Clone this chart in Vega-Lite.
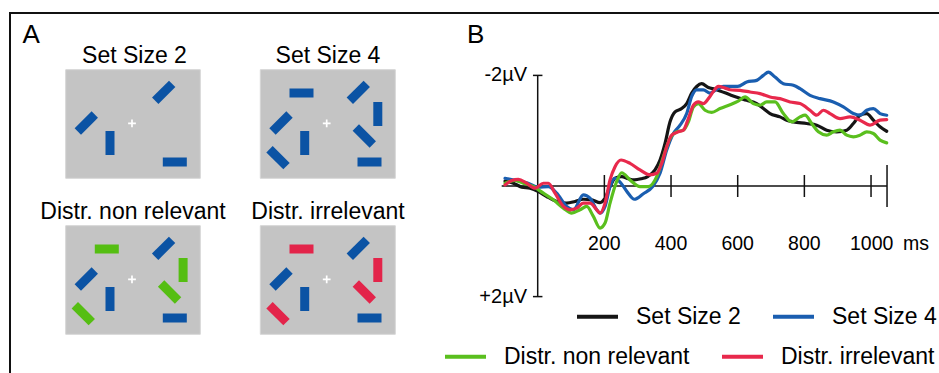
{
  "$schema": "https://vega.github.io/schema/vega-lite/v6.json",
  "width": 931,
  "height": 362,
  "autosize": {"type": "none"},
  "padding": {"left": 10, "top": 13, "right": -2, "bottom": -2},
  "background": "white",
  "config": {
    "view": {"stroke": "#111111", "strokeWidth": 2},
    "font": "Liberation Sans",
    "text": {"font": "Liberation Sans", "color": "#000000"}
  },
  "datasets": {
    "displays": [
      {"display": "Set Size 2", "x": 65.7, "x2": 200.3, "y": 69.7, "y2": 178.3},
      {"display": "Set Size 4", "x": 260.3, "x2": 395.3, "y": 69.7, "y2": 178.3},
      {"display": "Distr. non relevant", "x": 65.7, "x2": 200.3, "y": 225.7, "y2": 334.3},
      {"display": "Distr. irrelevant", "x": 260.3, "x2": 395.3, "y": 225.7, "y2": 334.3}
    ],
    "titles": [
      {"label": "Set Size 2", "x": 134.5, "y": 63.3},
      {"label": "Set Size 4", "x": 328, "y": 63.3},
      {"label": "Distr. non relevant", "x": 133, "y": 219},
      {"label": "Distr. irrelevant", "x": 328, "y": 219}
    ],
    "panelA": [{"label": "A", "x": 22.5, "y": 43.3}],
    "bars": [
      {"display": "Set Size 2", "stim": "target", "x": 163.7, "y": 92.3, "orientation": 315},
      {"display": "Set Size 2", "stim": "target", "x": 86.3, "y": 123, "orientation": 315},
      {"display": "Set Size 2", "stim": "target", "x": 110, "y": 143, "orientation": 90},
      {"display": "Set Size 2", "stim": "target", "x": 174.8, "y": 162, "orientation": 0},
      {"display": "Set Size 4", "stim": "target", "x": 301.5, "y": 93, "orientation": 0},
      {"display": "Set Size 4", "stim": "target", "x": 358.3, "y": 92.3, "orientation": 315},
      {"display": "Set Size 4", "stim": "target", "x": 377.8, "y": 114, "orientation": 90},
      {"display": "Set Size 4", "stim": "target", "x": 281, "y": 123, "orientation": 315},
      {"display": "Set Size 4", "stim": "target", "x": 364.3, "y": 136, "orientation": 45},
      {"display": "Set Size 4", "stim": "target", "x": 304.7, "y": 143, "orientation": 90},
      {"display": "Set Size 4", "stim": "target", "x": 278, "y": 157.7, "orientation": 45},
      {"display": "Set Size 4", "stim": "target", "x": 369.5, "y": 162, "orientation": 0},
      {"display": "Distr. non relevant", "stim": "non relevant", "x": 106.8, "y": 249, "orientation": 0},
      {"display": "Distr. non relevant", "stim": "target", "x": 163.6, "y": 248.3, "orientation": 315},
      {"display": "Distr. non relevant", "stim": "non relevant", "x": 183.1, "y": 270, "orientation": 90},
      {"display": "Distr. non relevant", "stim": "target", "x": 86.3, "y": 279, "orientation": 315},
      {"display": "Distr. non relevant", "stim": "non relevant", "x": 169.6, "y": 292, "orientation": 45},
      {"display": "Distr. non relevant", "stim": "target", "x": 110, "y": 299, "orientation": 90},
      {"display": "Distr. non relevant", "stim": "non relevant", "x": 83.3, "y": 313.7, "orientation": 45},
      {"display": "Distr. non relevant", "stim": "target", "x": 174.8, "y": 318, "orientation": 0},
      {"display": "Distr. irrelevant", "stim": "irrelevant", "x": 301.5, "y": 249, "orientation": 0},
      {"display": "Distr. irrelevant", "stim": "target", "x": 358.3, "y": 248.3, "orientation": 315},
      {"display": "Distr. irrelevant", "stim": "irrelevant", "x": 377.8, "y": 270, "orientation": 90},
      {"display": "Distr. irrelevant", "stim": "target", "x": 281, "y": 279, "orientation": 315},
      {"display": "Distr. irrelevant", "stim": "irrelevant", "x": 364.3, "y": 292, "orientation": 45},
      {"display": "Distr. irrelevant", "stim": "target", "x": 304.7, "y": 299, "orientation": 90},
      {"display": "Distr. irrelevant", "stim": "irrelevant", "x": 278, "y": 313.7, "orientation": 45},
      {"display": "Distr. irrelevant", "stim": "target", "x": 369.5, "y": 318, "orientation": 0}
    ],
    "fixation": [
      {"display": "Set Size 2", "x": 132, "y": 123.3},
      {"display": "Set Size 4", "x": 326.7, "y": 123.3},
      {"display": "Distr. non relevant", "x": 132, "y": 279.3},
      {"display": "Distr. irrelevant", "x": 326.7, "y": 279.3}
    ],
    "erpSetSize": [
      {"condition": "Set Size 2", "t": -98, "v": -0.09}, {"condition": "Set Size 2", "t": -73, "v": -0.05},
      {"condition": "Set Size 2", "t": -48, "v": 0.02}, {"condition": "Set Size 2", "t": -23, "v": 0.04},
      {"condition": "Set Size 2", "t": 2, "v": 0.10}, {"condition": "Set Size 2", "t": 27, "v": 0.19},
      {"condition": "Set Size 2", "t": 57, "v": 0.28}, {"condition": "Set Size 2", "t": 87, "v": 0.31},
      {"condition": "Set Size 2", "t": 112, "v": 0.28}, {"condition": "Set Size 2", "t": 137, "v": 0.24},
      {"condition": "Set Size 2", "t": 162, "v": 0.25}, {"condition": "Set Size 2", "t": 187, "v": 0.30},
      {"condition": "Set Size 2", "t": 202, "v": 0.22}, {"condition": "Set Size 2", "t": 217, "v": 0.01},
      {"condition": "Set Size 2", "t": 232, "v": -0.14}, {"condition": "Set Size 2", "t": 252, "v": -0.17},
      {"condition": "Set Size 2", "t": 272, "v": -0.13}, {"condition": "Set Size 2", "t": 290, "v": -0.11},
      {"condition": "Set Size 2", "t": 310, "v": -0.13}, {"condition": "Set Size 2", "t": 330, "v": -0.17},
      {"condition": "Set Size 2", "t": 352, "v": -0.29}, {"condition": "Set Size 2", "t": 367, "v": -0.47},
      {"condition": "Set Size 2", "t": 382, "v": -0.77}, {"condition": "Set Size 2", "t": 397, "v": -1.16},
      {"condition": "Set Size 2", "t": 412, "v": -1.34}, {"condition": "Set Size 2", "t": 432, "v": -1.40},
      {"condition": "Set Size 2", "t": 447, "v": -1.49}, {"condition": "Set Size 2", "t": 462, "v": -1.68},
      {"condition": "Set Size 2", "t": 477, "v": -1.80}, {"condition": "Set Size 2", "t": 492, "v": -1.85},
      {"condition": "Set Size 2", "t": 512, "v": -1.78}, {"condition": "Set Size 2", "t": 532, "v": -1.75},
      {"condition": "Set Size 2", "t": 547, "v": -1.72}, {"condition": "Set Size 2", "t": 577, "v": -1.65},
      {"condition": "Set Size 2", "t": 600, "v": -1.60}, {"condition": "Set Size 2", "t": 627, "v": -1.55},
      {"condition": "Set Size 2", "t": 657, "v": -1.49}, {"condition": "Set Size 2", "t": 677, "v": -1.40},
      {"condition": "Set Size 2", "t": 697, "v": -1.31}, {"condition": "Set Size 2", "t": 727, "v": -1.25},
      {"condition": "Set Size 2", "t": 747, "v": -1.19}, {"condition": "Set Size 2", "t": 767, "v": -1.16},
      {"condition": "Set Size 2", "t": 807, "v": -1.13}, {"condition": "Set Size 2", "t": 837, "v": -1.10},
      {"condition": "Set Size 2", "t": 867, "v": -1.01}, {"condition": "Set Size 2", "t": 897, "v": -0.98},
      {"condition": "Set Size 2", "t": 927, "v": -1.01}, {"condition": "Set Size 2", "t": 947, "v": -1.13},
      {"condition": "Set Size 2", "t": 967, "v": -1.28}, {"condition": "Set Size 2", "t": 987, "v": -1.31},
      {"condition": "Set Size 2", "t": 1007, "v": -1.19}, {"condition": "Set Size 2", "t": 1027, "v": -1.07},
      {"condition": "Set Size 2", "t": 1047, "v": -0.99},
      {"condition": "Set Size 4", "t": -98, "v": -0.14}, {"condition": "Set Size 4", "t": -63, "v": -0.10},
      {"condition": "Set Size 4", "t": -33, "v": -0.06}, {"condition": "Set Size 4", "t": 2, "v": 0.02},
      {"condition": "Set Size 4", "t": 32, "v": 0.01}, {"condition": "Set Size 4", "t": 57, "v": 0.13},
      {"condition": "Set Size 4", "t": 87, "v": 0.37}, {"condition": "Set Size 4", "t": 107, "v": 0.43},
      {"condition": "Set Size 4", "t": 137, "v": 0.16}, {"condition": "Set Size 4", "t": 157, "v": 0.22},
      {"condition": "Set Size 4", "t": 177, "v": 0.43}, {"condition": "Set Size 4", "t": 187, "v": 0.49},
      {"condition": "Set Size 4", "t": 202, "v": 0.37}, {"condition": "Set Size 4", "t": 217, "v": 0.01},
      {"condition": "Set Size 4", "t": 232, "v": -0.14}, {"condition": "Set Size 4", "t": 250, "v": -0.05},
      {"condition": "Set Size 4", "t": 270, "v": 0.12}, {"condition": "Set Size 4", "t": 290, "v": 0.24},
      {"condition": "Set Size 4", "t": 317, "v": 0.14}, {"condition": "Set Size 4", "t": 345, "v": 0.01},
      {"condition": "Set Size 4", "t": 367, "v": -0.23}, {"condition": "Set Size 4", "t": 387, "v": -0.65},
      {"condition": "Set Size 4", "t": 407, "v": -0.95}, {"condition": "Set Size 4", "t": 427, "v": -1.10},
      {"condition": "Set Size 4", "t": 447, "v": -1.31}, {"condition": "Set Size 4", "t": 462, "v": -1.62},
      {"condition": "Set Size 4", "t": 477, "v": -1.74}, {"condition": "Set Size 4", "t": 497, "v": -1.74},
      {"condition": "Set Size 4", "t": 517, "v": -1.68}, {"condition": "Set Size 4", "t": 537, "v": -1.75},
      {"condition": "Set Size 4", "t": 557, "v": -1.80}, {"condition": "Set Size 4", "t": 577, "v": -1.80},
      {"condition": "Set Size 4", "t": 600, "v": -1.80}, {"condition": "Set Size 4", "t": 627, "v": -1.88},
      {"condition": "Set Size 4", "t": 657, "v": -1.91}, {"condition": "Set Size 4", "t": 677, "v": -2.00},
      {"condition": "Set Size 4", "t": 692, "v": -2.06}, {"condition": "Set Size 4", "t": 712, "v": -1.97},
      {"condition": "Set Size 4", "t": 737, "v": -1.85}, {"condition": "Set Size 4", "t": 767, "v": -1.82},
      {"condition": "Set Size 4", "t": 787, "v": -1.76}, {"condition": "Set Size 4", "t": 817, "v": -1.64},
      {"condition": "Set Size 4", "t": 847, "v": -1.58}, {"condition": "Set Size 4", "t": 887, "v": -1.52},
      {"condition": "Set Size 4", "t": 917, "v": -1.43}, {"condition": "Set Size 4", "t": 947, "v": -1.31},
      {"condition": "Set Size 4", "t": 967, "v": -1.28}, {"condition": "Set Size 4", "t": 987, "v": -1.37},
      {"condition": "Set Size 4", "t": 1007, "v": -1.40}, {"condition": "Set Size 4", "t": 1027, "v": -1.31},
      {"condition": "Set Size 4", "t": 1047, "v": -1.28}
    ],
    "erpDistr": [
      {"condition": "Distr. non relevant", "t": -98, "v": -0.05}, {"condition": "Distr. non relevant", "t": -68, "v": -0.10},
      {"condition": "Distr. non relevant", "t": -43, "v": -0.05}, {"condition": "Distr. non relevant", "t": -13, "v": 0.01},
      {"condition": "Distr. non relevant", "t": 17, "v": 0.13}, {"condition": "Distr. non relevant", "t": 47, "v": 0.25},
      {"condition": "Distr. non relevant", "t": 77, "v": 0.40}, {"condition": "Distr. non relevant", "t": 102, "v": 0.49},
      {"condition": "Distr. non relevant", "t": 127, "v": 0.43}, {"condition": "Distr. non relevant", "t": 147, "v": 0.37},
      {"condition": "Distr. non relevant", "t": 167, "v": 0.55}, {"condition": "Distr. non relevant", "t": 187, "v": 0.76},
      {"condition": "Distr. non relevant", "t": 202, "v": 0.67}, {"condition": "Distr. non relevant", "t": 217, "v": 0.31},
      {"condition": "Distr. non relevant", "t": 235, "v": -0.05}, {"condition": "Distr. non relevant", "t": 252, "v": -0.24},
      {"condition": "Distr. non relevant", "t": 277, "v": -0.11}, {"condition": "Distr. non relevant", "t": 307, "v": 0.01},
      {"condition": "Distr. non relevant", "t": 332, "v": 0.01}, {"condition": "Distr. non relevant", "t": 357, "v": -0.17},
      {"condition": "Distr. non relevant", "t": 377, "v": -0.53}, {"condition": "Distr. non relevant", "t": 397, "v": -0.86},
      {"condition": "Distr. non relevant", "t": 417, "v": -0.98}, {"condition": "Distr. non relevant", "t": 437, "v": -1.01},
      {"condition": "Distr. non relevant", "t": 452, "v": -1.16}, {"condition": "Distr. non relevant", "t": 467, "v": -1.43},
      {"condition": "Distr. non relevant", "t": 482, "v": -1.49}, {"condition": "Distr. non relevant", "t": 502, "v": -1.37},
      {"condition": "Distr. non relevant", "t": 522, "v": -1.33}, {"condition": "Distr. non relevant", "t": 547, "v": -1.40},
      {"condition": "Distr. non relevant", "t": 577, "v": -1.47}, {"condition": "Distr. non relevant", "t": 600, "v": -1.53},
      {"condition": "Distr. non relevant", "t": 622, "v": -1.61}, {"condition": "Distr. non relevant", "t": 647, "v": -1.49},
      {"condition": "Distr. non relevant", "t": 667, "v": -1.46}, {"condition": "Distr. non relevant", "t": 687, "v": -1.52},
      {"condition": "Distr. non relevant", "t": 712, "v": -1.52}, {"condition": "Distr. non relevant", "t": 737, "v": -1.31},
      {"condition": "Distr. non relevant", "t": 762, "v": -1.16}, {"condition": "Distr. non relevant", "t": 787, "v": -1.25},
      {"condition": "Distr. non relevant", "t": 802, "v": -1.28}, {"condition": "Distr. non relevant", "t": 822, "v": -1.13},
      {"condition": "Distr. non relevant", "t": 842, "v": -0.98}, {"condition": "Distr. non relevant", "t": 867, "v": -0.92},
      {"condition": "Distr. non relevant", "t": 887, "v": -0.98}, {"condition": "Distr. non relevant", "t": 907, "v": -1.01},
      {"condition": "Distr. non relevant", "t": 927, "v": -0.92}, {"condition": "Distr. non relevant", "t": 947, "v": -0.89},
      {"condition": "Distr. non relevant", "t": 967, "v": -0.92}, {"condition": "Distr. non relevant", "t": 987, "v": -0.98},
      {"condition": "Distr. non relevant", "t": 1007, "v": -0.95}, {"condition": "Distr. non relevant", "t": 1027, "v": -0.83},
      {"condition": "Distr. non relevant", "t": 1047, "v": -0.78},
      {"condition": "Distr. irrelevant", "t": -98, "v": -0.02}, {"condition": "Distr. irrelevant", "t": -78, "v": -0.10},
      {"condition": "Distr. irrelevant", "t": -58, "v": -0.12}, {"condition": "Distr. irrelevant", "t": -33, "v": -0.05},
      {"condition": "Distr. irrelevant", "t": -8, "v": 0.04}, {"condition": "Distr. irrelevant", "t": 17, "v": -0.05},
      {"condition": "Distr. irrelevant", "t": 32, "v": -0.05}, {"condition": "Distr. irrelevant", "t": 52, "v": 0.13},
      {"condition": "Distr. irrelevant", "t": 77, "v": 0.37}, {"condition": "Distr. irrelevant", "t": 97, "v": 0.43},
      {"condition": "Distr. irrelevant", "t": 117, "v": 0.40}, {"condition": "Distr. irrelevant", "t": 137, "v": 0.31},
      {"condition": "Distr. irrelevant", "t": 157, "v": 0.31}, {"condition": "Distr. irrelevant", "t": 177, "v": 0.43},
      {"condition": "Distr. irrelevant", "t": 187, "v": 0.49}, {"condition": "Distr. irrelevant", "t": 202, "v": 0.31},
      {"condition": "Distr. irrelevant", "t": 217, "v": -0.11}, {"condition": "Distr. irrelevant", "t": 232, "v": -0.35},
      {"condition": "Distr. irrelevant", "t": 250, "v": -0.47}, {"condition": "Distr. irrelevant", "t": 277, "v": -0.41},
      {"condition": "Distr. irrelevant", "t": 307, "v": -0.29}, {"condition": "Distr. irrelevant", "t": 337, "v": -0.20},
      {"condition": "Distr. irrelevant", "t": 357, "v": -0.23}, {"condition": "Distr. irrelevant", "t": 372, "v": -0.41},
      {"condition": "Distr. irrelevant", "t": 387, "v": -0.71}, {"condition": "Distr. irrelevant", "t": 402, "v": -0.92},
      {"condition": "Distr. irrelevant", "t": 422, "v": -0.98}, {"condition": "Distr. irrelevant", "t": 437, "v": -1.01},
      {"condition": "Distr. irrelevant", "t": 452, "v": -1.22}, {"condition": "Distr. irrelevant", "t": 467, "v": -1.46},
      {"condition": "Distr. irrelevant", "t": 482, "v": -1.52}, {"condition": "Distr. irrelevant", "t": 497, "v": -1.49},
      {"condition": "Distr. irrelevant", "t": 512, "v": -1.58}, {"condition": "Distr. irrelevant", "t": 527, "v": -1.71},
      {"condition": "Distr. irrelevant", "t": 542, "v": -1.80}, {"condition": "Distr. irrelevant", "t": 562, "v": -1.77},
      {"condition": "Distr. irrelevant", "t": 577, "v": -1.74}, {"condition": "Distr. irrelevant", "t": 607, "v": -1.73},
      {"condition": "Distr. irrelevant", "t": 637, "v": -1.70}, {"condition": "Distr. irrelevant", "t": 667, "v": -1.67},
      {"condition": "Distr. irrelevant", "t": 697, "v": -1.61}, {"condition": "Distr. irrelevant", "t": 727, "v": -1.58},
      {"condition": "Distr. irrelevant", "t": 757, "v": -1.52}, {"condition": "Distr. irrelevant", "t": 787, "v": -1.49},
      {"condition": "Distr. irrelevant", "t": 817, "v": -1.37}, {"condition": "Distr. irrelevant", "t": 837, "v": -1.28},
      {"condition": "Distr. irrelevant", "t": 857, "v": -1.37}, {"condition": "Distr. irrelevant", "t": 877, "v": -1.31},
      {"condition": "Distr. irrelevant", "t": 907, "v": -1.22}, {"condition": "Distr. irrelevant", "t": 937, "v": -1.25},
      {"condition": "Distr. irrelevant", "t": 967, "v": -1.19}, {"condition": "Distr. irrelevant", "t": 997, "v": -1.10},
      {"condition": "Distr. irrelevant", "t": 1027, "v": -1.19}, {"condition": "Distr. irrelevant", "t": 1047, "v": -1.20}
    ],
    "xTicks": [{"t": 200}, {"t": 400}, {"t": 600}, {"t": 800}, {"t": 1000}],
    "xTickLabels": [
      {"t": 200, "label": "200"}, {"t": 400, "label": "400"}, {"t": 600, "label": "600"},
      {"t": 800, "label": "800"}, {"t": 1002, "label": "1000"}, {"t": 1135, "label": "ms"}
    ],
    "yTicks": [{"v": -2, "label": "-2µV"}, {"v": 2, "label": "+2µV"}]
  },
  "resolve": {"scale": {"x": "independent", "y": "independent"}},
  "layer": [
    {
      "encoding": {
        "x": {"field": "x", "type": "quantitative", "scale": {"domain": [10, 941], "nice": false, "zero": false}, "axis": null},
        "y": {"field": "y", "type": "quantitative", "scale": {"domain": [13, 375], "nice": false, "zero": false, "reverse": true}, "axis": null}
      },
      "layer": [
        {
          "data": {"name": "displays"},
          "mark": {"type": "rect", "fill": "#c4c4c4", "stroke": "#d6d6d6", "strokeWidth": 1},
          "encoding": {"x2": {"field": "x2"}, "y2": {"field": "y2"}}
        },
        {
          "data": {"name": "titles"},
          "mark": {"type": "text", "fontSize": 23, "align": "center", "baseline": "alphabetic"},
          "encoding": {"text": {"field": "label"}}
        },
        {
          "data": {"name": "bars"},
          "mark": {"type": "point", "shape": "M-1,-0.375L1,-0.375L1,0.375L-1,0.375Z", "filled": true, "size": 576, "opacity": 1, "strokeWidth": 0},
          "encoding": {
            "angle": {"field": "orientation", "type": "quantitative", "scale": {"domain": [0, 360], "range": [0, 360]}},
            "fill": {"field": "stim", "type": "nominal", "scale": {"domain": ["target", "non relevant", "irrelevant"], "range": ["#0b53a4", "#55be12", "#e3244a"]}, "legend": null}
          }
        },
        {
          "data": {"name": "fixation"},
          "mark": {"type": "point", "shape": "M-1,0L1,0M0,-1L0,1", "filled": false, "stroke": "#ffffff", "strokeWidth": 1.7, "size": 60, "opacity": 1}
        },
        {
          "data": {"name": "panelA"},
          "mark": {"type": "text", "fontSize": 26, "align": "left", "baseline": "alphabetic"},
          "encoding": {"text": {"field": "label"}}
        }
      ]
    },
    {
      "resolve": {"scale": {"color": "independent"}, "legend": {"color": "independent"}},
      "layer": [
        {
          "data": {"values": [{}]},
          "mark": {"type": "rule", "color": "#111111", "strokeWidth": 1.5},
          "encoding": {
            "x": {"datum": -108, "type": "quantitative", "scale": {"domain": [-1583.1, 1209.9], "nice": false, "zero": false}, "axis": null},
            "x2": {"datum": 1048},
            "y": {"datum": 0, "type": "quantitative", "scale": {"domain": [-3.1284, 3.4177], "nice": false, "zero": false, "reverse": true}, "axis": null}
          }
        },
        {
          "data": {"values": [{}]},
          "mark": {"type": "rule", "color": "#111111", "strokeWidth": 1.5},
          "encoding": {
            "x": {"datum": 0, "type": "quantitative", "scale": {"domain": [-1583.1, 1209.9], "nice": false, "zero": false}, "axis": null},
            "y": {"datum": -2, "type": "quantitative", "scale": {"domain": [-3.1284, 3.4177], "nice": false, "zero": false, "reverse": true}, "axis": null},
            "y2": {"datum": 2}
          }
        },
        {
          "data": {"name": "xTicks"},
          "mark": {"type": "point", "shape": "M0,-1L0,1", "filled": false, "stroke": "#111111", "strokeWidth": 1.5, "size": 484, "opacity": 1},
          "encoding": {
            "x": {"field": "t", "type": "quantitative", "scale": {"domain": [-1583.1, 1209.9], "nice": false, "zero": false}, "axis": null},
            "y": {"datum": 0, "type": "quantitative", "scale": {"domain": [-3.1284, 3.4177], "nice": false, "zero": false, "reverse": true}, "axis": null}
          }
        },
        {
          "data": {"values": [{"t": 1048}]},
          "mark": {"type": "point", "shape": "M0,-1L0,1", "filled": false, "stroke": "#111111", "strokeWidth": 1.5, "size": 1764, "opacity": 1},
          "encoding": {
            "x": {"field": "t", "type": "quantitative", "scale": {"domain": [-1583.1, 1209.9], "nice": false, "zero": false}, "axis": null},
            "y": {"datum": 0, "type": "quantitative", "scale": {"domain": [-3.1284, 3.4177], "nice": false, "zero": false, "reverse": true}, "axis": null}
          }
        },
        {
          "data": {"name": "yTicks"},
          "mark": {"type": "point", "shape": "M-1,0L1,0", "filled": false, "stroke": "#111111", "strokeWidth": 1.5, "size": 90, "opacity": 1},
          "encoding": {
            "x": {"datum": 0, "type": "quantitative", "scale": {"domain": [-1583.1, 1209.9], "nice": false, "zero": false}, "axis": null},
            "y": {"field": "v", "type": "quantitative", "scale": {"domain": [-3.1284, 3.4177], "nice": false, "zero": false, "reverse": true}, "axis": null}
          }
        },
        {
          "data": {"name": "xTickLabels"},
          "mark": {"type": "text", "fontSize": 19.5, "align": "center", "baseline": "alphabetic"},
          "encoding": {
            "x": {"field": "t", "type": "quantitative", "scale": {"domain": [-1583.1, 1209.9], "nice": false, "zero": false}, "axis": null},
            "y": {"datum": 1.157, "type": "quantitative", "scale": {"domain": [-3.1284, 3.4177], "nice": false, "zero": false, "reverse": true}, "axis": null},
            "text": {"field": "label"}
          }
        },
        {
          "data": {"name": "yTicks"},
          "mark": {"type": "text", "fontSize": 20, "align": "right", "baseline": "middle"},
          "encoding": {
            "x": {"datum": -32, "type": "quantitative", "scale": {"domain": [-1583.1, 1209.9], "nice": false, "zero": false}, "axis": null},
            "y": {"field": "v", "type": "quantitative", "scale": {"domain": [-3.1284, 3.4177], "nice": false, "zero": false, "reverse": true}, "axis": null},
            "text": {"field": "label"}
          }
        },
        {
          "data": {"name": "erpSetSize"},
          "mark": {"type": "line", "strokeWidth": 3.2, "interpolate": "monotone", "strokeCap": "round", "strokeJoin": "round"},
          "encoding": {
            "x": {"field": "t", "type": "quantitative", "scale": {"domain": [-1583.1, 1209.9], "nice": false, "zero": false}, "axis": null},
            "y": {"field": "v", "type": "quantitative", "scale": {"domain": [-3.1284, 3.4177], "nice": false, "zero": false, "reverse": true}, "axis": null},
            "color": {
              "field": "condition", "type": "nominal",
              "scale": {"domain": ["Set Size 2", "Set Size 4"], "range": ["#151515", "#1a5eb0"]},
              "legend": {
                "orient": "none", "legendX": 565, "legendY": 281, "direction": "horizontal", "title": null,
                "symbolType": "stroke", "symbolSize": 1681, "symbolStrokeWidth": 4,
                "labelFontSize": 23, "labelFont": "Liberation Sans", "labelColor": "#000000", "labelLimit": 400,
                "labelOffset": 16, "columnPadding": 24, "padding": 0
              }
            }
          }
        },
        {
          "data": {"name": "erpDistr"},
          "mark": {"type": "line", "strokeWidth": 3.2, "interpolate": "monotone", "strokeCap": "round", "strokeJoin": "round"},
          "encoding": {
            "x": {"field": "t", "type": "quantitative", "scale": {"domain": [-1583.1, 1209.9], "nice": false, "zero": false}, "axis": null},
            "y": {"field": "v", "type": "quantitative", "scale": {"domain": [-3.1284, 3.4177], "nice": false, "zero": false, "reverse": true}, "axis": null},
            "color": {
              "field": "condition", "type": "nominal",
              "scale": {"domain": ["Distr. non relevant", "Distr. irrelevant"], "range": ["#5abf1e", "#e8294c"]},
              "legend": {
                "orient": "none", "legendX": 433, "legendY": 321, "direction": "horizontal", "title": null,
                "symbolType": "stroke", "symbolSize": 1681, "symbolStrokeWidth": 4,
                "labelFontSize": 23, "labelFont": "Liberation Sans", "labelColor": "#000000", "labelLimit": 400,
                "labelOffset": 16, "columnPadding": 24, "padding": 0
              }
            }
          }
        },
        {
          "data": {"values": [{"label": "B"}]},
          "mark": {"type": "text", "fontSize": 26, "align": "left", "baseline": "alphabetic"},
          "encoding": {
            "x": {"datum": -212, "type": "quantitative", "scale": {"domain": [-1583.1, 1209.9], "nice": false, "zero": false}, "axis": null},
            "y": {"datum": -2.58, "type": "quantitative", "scale": {"domain": [-3.1284, 3.4177], "nice": false, "zero": false, "reverse": true}, "axis": null},
            "text": {"field": "label"}
          }
        }
      ]
    }
  ]
}
